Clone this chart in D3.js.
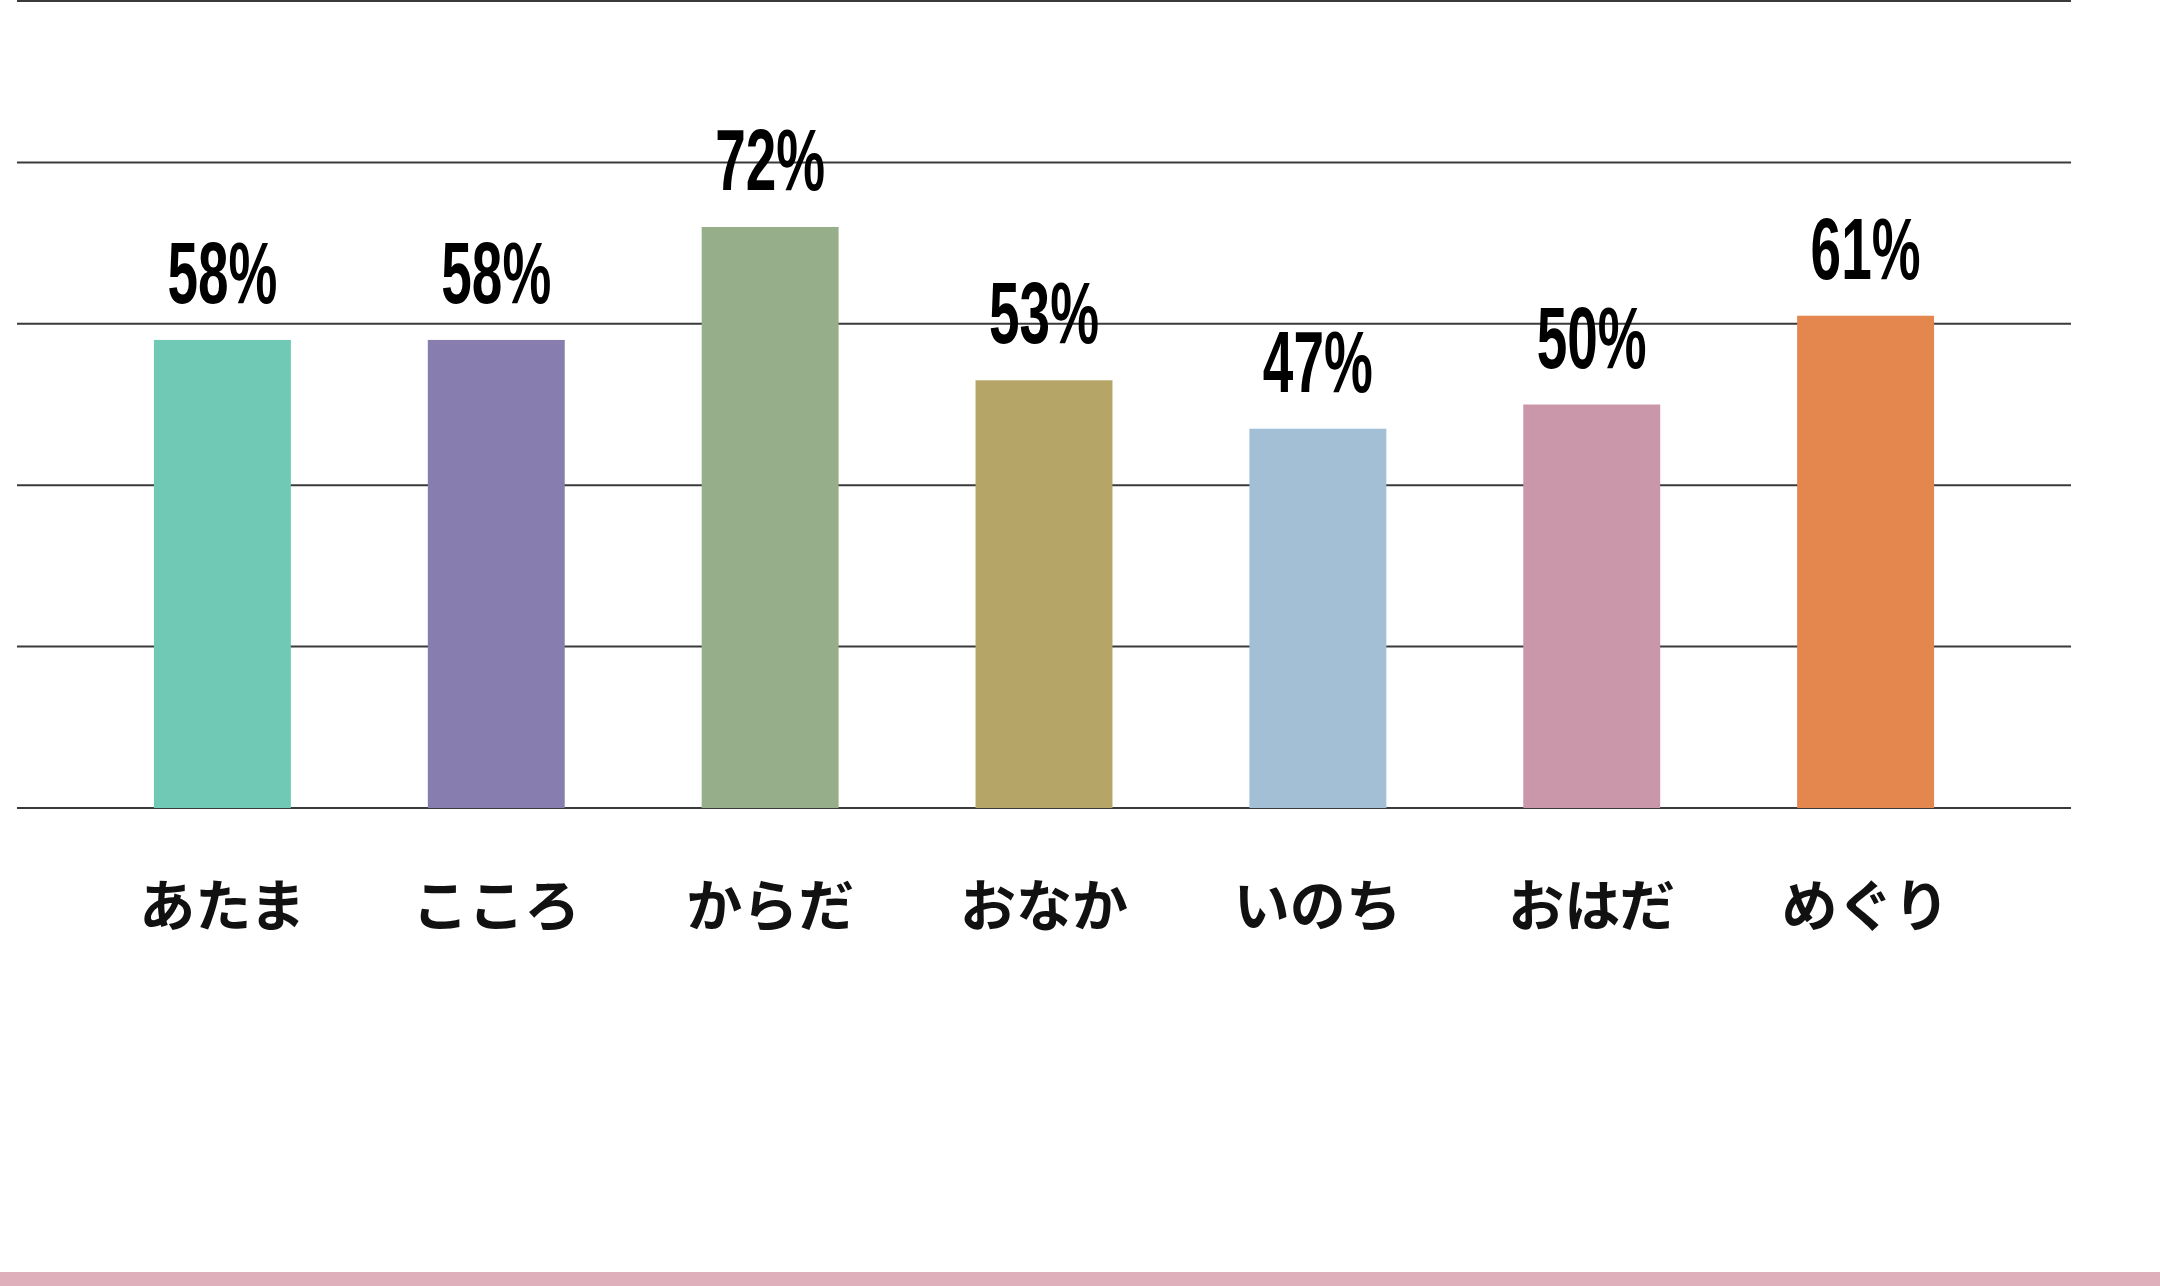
<!DOCTYPE html>
<html>
<head>
<meta charset="utf-8">
<script src="https://cdn.jsdelivr.net/npm/d3@7"></script>
<style>
  html, body { margin: 0; padding: 0; background: #fff; }
  svg { display: block; }
</style>
</head>
<body>
<div id="chart"></div>
<script>
// data
var categories = ["あたま", "こころ", "からだ", "おなか", "いのち", "おはだ", "めぐり"];
var values = [58, 58, 72, 53, 47, 50, 61];
var barColors = ["#6fc9b4", "#877daf", "#97ae8b", "#b5a667", "#a3bfd6", "#c997a9", "#e3874f"];
var gridTicks = [0, 20, 40, 60, 80, 100];

var svgWidth = 2160;
var svgHeight = 1286;

var svg = d3.select("#chart")
  .append("svg")
  .attr("width", svgWidth)
  .attr("height", svgHeight);

// scales
var xScale = d3.scaleBand()
  .domain(categories)
  .range([17, 2071])
  .paddingInner(0.5)
  .paddingOuter(0.5);

var yScale = d3.scaleLinear()
  .domain([0, 100])
  .range([808, 1]);

// gridlines
svg.append("g")
  .selectAll("line")
  .data(gridTicks)
  .enter()
  .append("line")
  .attr("x1", 17)
  .attr("x2", 2071)
  .attr("y1", d => yScale(d))
  .attr("y2", d => yScale(d))
  .attr("stroke", "#3a3a3a")
  .attr("stroke-width", 2);

// bars
svg.append("g")
  .selectAll("rect")
  .data(values)
  .enter()
  .append("rect")
  .attr("x", (d, i) => xScale(categories[i]))
  .attr("y", d => yScale(d))
  .attr("width", xScale.bandwidth())
  .attr("height", d => yScale(0) - yScale(d))
  .attr("fill", (d, i) => barColors[i]);

// value labels (condensed bold)
svg.append("g")
  .selectAll("text")
  .data(values)
  .enter()
  .append("text")
  .attr("x", (d, i) => xScale(categories[i]) + xScale.bandwidth() / 2)
  .attr("y", d => yScale(d) - 37)
  .attr("text-anchor", "middle")
  .attr("textLength", 110)
  .attr("lengthAdjust", "spacingAndGlyphs")
  .style("font-family", "'Liberation Sans Narrow', 'Liberation Sans', Arial, sans-serif")
  .style("font-weight", "bold")
  .style("font-size", "88px")
  .attr("fill", "#000")
  .text(d => d + "%");

// category labels
svg.append("g")
  .selectAll("text")
  .data(categories)
  .enter()
  .append("text")
  .attr("x", d => xScale(d) + xScale.bandwidth() / 2)
  .attr("y", 906)
  .attr("dy", "0.36em")
  .attr("text-anchor", "middle")
  .style("font-family", "'Noto Sans CJK JP', sans-serif")
  .style("font-weight", "bold")
  .style("font-size", "56px")
  .attr("fill", "#111")
  .text(d => d);

// pink strip along the bottom
svg.append("rect")
  .attr("x", 0)
  .attr("y", 1272)
  .attr("width", svgWidth)
  .attr("height", 14)
  .attr("fill", "#dfb0bc");
</script>
</body>
</html>
